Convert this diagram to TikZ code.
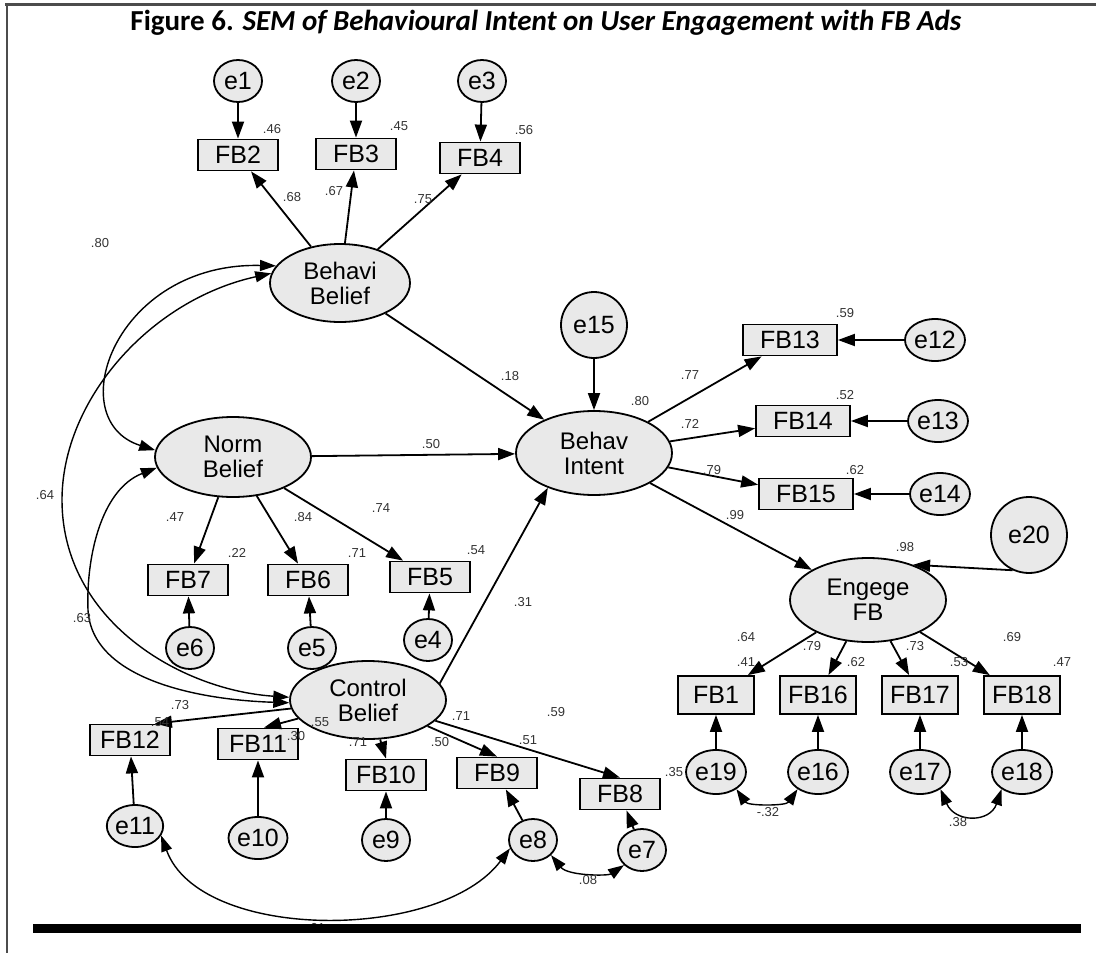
\documentclass[tikz,border=0pt]{standalone}
\usepackage{fontspec}
\setmainfont{Liberation Sans}
\newfontfamily\titlefont{Carlito}
\usetikzlibrary{shapes.geometric, arrows.meta, positioning}

\begin{document}
\begin{tikzpicture}[
    x=1pt, y=-1pt,
    obs/.style={rectangle, draw, line width=1.8pt, fill=gray!17,
                minimum width=80pt, minimum height=31pt, inner sep=0pt,
                font=\fontsize{25}{25}\selectfont},
    wide/.style={obs, minimum width=94pt},
    tall/.style={obs, minimum width=76pt, minimum height=38pt},
    lat/.style={ellipse, draw, line width=1.8pt, fill=gray!17,
                minimum width=156pt, minimum height=80pt, inner sep=0pt,
                align=center, font=\fontsize{24}{25}\selectfont},
    err/.style={ellipse, draw, line width=1.8pt, fill=gray!17,
                minimum width=48pt, minimum height=42pt, inner sep=0pt,
                font=\fontsize{25}{25}\selectfont},
    coef/.style={inner sep=0pt, text=black!80, font=\fontsize{13}{13}\selectfont},
    arr/.style={-{Triangle[length=17pt, width=12pt]}, line width=1.8pt},
    cov/.style={{Triangle[length=16pt, width=11pt]}-{Triangle[length=16pt, width=11pt]},
                line width=1.4pt}
]
  \useasboundingbox (0,0) rectangle (1096,953);
  % frame and title
  \draw[line width=3pt, black!70] (5,4) -- (1096,4);
  \draw[line width=2pt, black!70] (7,4) -- (7,953);
  \node (title) at (546,23) {\titlefont\bfseries\fontsize{29}{29}\selectfont
        Figure 6. \textit{SEM of Behavioural Intent on User Engagement with FB Ads}};

  % latent variables
  \node[lat, minimum width=140pt, minimum height=78pt] (bb) at (340,283) {Behavi\\Belief};
  \node[lat] (nb)  at (233,457) {Norm\\Belief};
  \node[lat, minimum height=84pt] (bi)  at (594,453) {Behav\\Intent};
  \node[lat, minimum height=78pt] (cb)  at (368,700) {Control\\Belief};
  \node[lat, minimum height=84pt] (efb) at (868,600) {Engege\\FB};

  % behavioural belief block
  \node[obs] (fb2) at (238,155) {FB2};
  \node[obs] (fb3) at (356,154) {FB3};
  \node[obs] (fb4) at (480,158) {FB4};
  \node[err] (e1) at (238,81) {e1};
  \node[err] (e2) at (356,81) {e2};
  \node[err] (e3) at (482,81) {e3};

  % norm belief block
  \node[obs] (fb7) at (188,580) {FB7};
  \node[obs] (fb6) at (308,580) {FB6};
  \node[obs] (fb5) at (430,577) {FB5};
  \node[err] (e6) at (190,648) {e6};
  \node[err] (e5) at (312,648) {e5};
  \node[err] (e4) at (428,640) {e4};

  % intention block
  \node[err, minimum size=66pt] (e15) at (594,325) {e15};
  \node[wide] (fb13) at (790,340) {FB13};
  \node[wide] (fb14) at (803,421) {FB14};
  \node[wide] (fb15) at (806,494) {FB15};
  \node[err, minimum width=60pt] (e12) at (935,340) {e12};
  \node[err, minimum width=60pt] (e13) at (938,421) {e13};
  \node[err, minimum width=60pt] (e14) at (940,494) {e14};

  % engagement block
  \node[err, minimum size=76pt] (e20) at (1029,535) {e20};
  \node[tall] (fb1)  at (716,695) {FB1};
  \node[tall] (fb16) at (818,695) {FB16};
  \node[tall] (fb17) at (920,695) {FB17};
  \node[tall] (fb18) at (1022,695) {FB18};
  \node[err, minimum width=60pt, minimum height=44pt] (e19) at (716,772) {e19};
  \node[err, minimum width=60pt, minimum height=44pt] (e16) at (818,772) {e16};
  \node[err, minimum width=60pt, minimum height=44pt] (e17) at (920,772) {e17};
  \node[err, minimum width=60pt, minimum height=44pt] (e18) at (1022,772) {e18};

  % control belief block
  \node[obs] (fb12) at (130,740) {FB12};
  \node[obs] (fb11) at (258,744) {FB11};
  \node[obs] (fb10) at (386,775) {FB10};
  \node[obs] (fb9)  at (497,773) {FB9};
  \node[obs] (fb8)  at (620,794) {FB8};
  \node[err, minimum width=56pt] (e11) at (135,826) {e11};
  \node[err, minimum width=56pt] (e10) at (258,838) {e10};
  \node[err] (e9) at (386,840) {e9};
  \node[err] (e8) at (533,840) {e8};
  \node[err] (e7) at (642,850) {e7};

  % regression paths
  \draw[arr] (bb) -- (fb2);  \draw[arr] (bb) -- (fb3);  \draw[arr] (bb) -- (fb4);
  \draw[arr] (e1) -- (fb2);  \draw[arr] (e2) -- (fb3);  \draw[arr] (e3) -- (fb4);
  \draw[arr] (nb) -- (fb7);  \draw[arr] (nb) -- (fb6);  \draw[arr] (nb) -- (fb5);
  \draw[arr] (e6) -- (fb7);  \draw[arr] (e5) -- (fb6);  \draw[arr] (e4) -- (fb5);
  \draw[arr] (bb) -- (bi);   \draw[arr] (nb) -- (bi);   \draw[arr] (cb.13) -- (bi.217);
  \draw[arr] (e15) -- (bi);
  \draw[arr] (bi) -- (fb13); \draw[arr] (bi) -- (fb14); \draw[arr] (bi) -- (fb15);
  \draw[arr] (e12) -- (fb13); \draw[arr] (e13) -- (fb14); \draw[arr] (e14) -- (fb15);
  \draw[arr] (bi) -- (efb);  \draw[arr] (e20.245) -- (efb.38);
  \draw[arr] (efb) -- (fb1); \draw[arr] (efb) -- (fb16);
  \draw[arr] (efb) -- (fb17); \draw[arr] (efb) -- (fb18);
  \draw[arr] (e19) -- (fb1); \draw[arr] (e16) -- (fb16);
  \draw[arr] (e17) -- (fb17); \draw[arr] (e18) -- (fb18);
  \draw[arr] (cb) -- ([xshift=-16pt]fb12.north east);
  \draw[arr] (cb) -- ([xshift=6pt]fb11.north);
  \draw[arr] (cb) -- (fb10.north);
  \draw[arr] (cb) -- (fb9.north);
  \draw[arr] (cb) -- (fb8.north);
  \draw[arr] (e11) -- (fb12); \draw[arr] (e10) -- (fb11); \draw[arr] (e9) -- (fb10);
  \draw[arr] (e8) -- (fb9);  \draw[arr] (e7) -- (fb8);

  % covariances
  \draw[cov] (bb.165) .. controls (115,262) and (60,420) .. (nb.175);
  \draw[cov] (bb.172) .. controls (150,300) and (62,400) .. (62,500)
             .. controls (62,620) and (180,690) .. (cb.178);
  \draw[cov] (nb.188) .. controls (100,490) and (86,560) .. (88,610)
             .. controls (92,680) and (200,700) .. (cb.182);
  \draw[cov] (e11.-20) .. controls (200,942) and (440,942) .. (e8.200);
  \draw[cov] (e8.-40) .. controls (568,876) and (608,876) .. (e7.220);
  \draw[cov] (e19.-40) .. controls (748,806) and (786,806) .. (e16.220);
  \draw[cov] (e17.-40) .. controls (955,823) and (990,823) .. (e18.220);

  % estimates
  \node[coef] (r2)  at (272,129) {.46};
  \node[coef] (r3)  at (399,126) {.45};
  \node[coef] (r4)  at (524,130) {.56};
  \node[coef] (p2)  at (292,197) {.68};
  \node[coef] (p3)  at (334,191) {.67};
  \node[coef] (p4)  at (423,199) {.75};
  \node[coef] (pbn) at (100,243) {.80};
  \node[coef] (pbc) at (45,495) {.64};
  \node[coef] (pnc) at (82,618) {.63};
  \node[coef] (pbi) at (510,376) {.18};
  \node[coef] (pni) at (431,444) {.50};
  \node[coef] (pci) at (523,602) {.31};
  \node[coef] (rbi) at (640,401) {.80};
  \node[coef] (p7)  at (175,517) {.47};
  \node[coef] (p6)  at (303,517) {.84};
  \node[coef] (p5)  at (381,508) {.74};
  \node[coef] (r7)  at (237,553) {.22};
  \node[coef] (r6)  at (357,553) {.71};
  \node[coef] (r5)  at (476,550) {.54};
  \node[coef] (r13) at (845,313) {.59};
  \node[coef] (r14) at (845,395) {.52};
  \node[coef] (r15) at (855,470) {.62};
  \node[coef] (p13) at (690,375) {.77};
  \node[coef] (p14) at (690,424) {.72};
  \node[coef] (p15) at (712,470) {.79};
  \node[coef] (pie) at (735,515) {.99};
  \node[coef] (ref) at (905,547) {.98};
  \node[coef] (p1)  at (746,637) {.64};
  \node[coef] (p16) at (812,646) {.79};
  \node[coef] (p17) at (915,646) {.73};
  \node[coef] (p18) at (1012,637) {.69};
  \node[coef] (r1)  at (746,662) {.41};
  \node[coef] (r16) at (856,662) {.62};
  \node[coef] (r17) at (959,662) {.53};
  \node[coef] (r18) at (1062,662) {.47};
  \node[coef] (c1916) at (768,812) {-.32};
  \node[coef] (c1718) at (958,822) {.38};
  \node[coef] (p12) at (180,705) {.73};
  \node[coef] (r12) at (160,722) {.54};
  \node[coef] (p11) at (320,722) {.55};
  \node[coef] (r11) at (296,736) {.30};
  \node[coef] (p10) at (358,742) {.71};
  \node[coef] (r10) at (440,742) {.50};
  \node[coef] (p9)  at (461,716) {.71};
  \node[coef] (r9)  at (528,740) {.51};
  \node[coef] (p8)  at (556,712) {.59};
  \node[coef] (r8)  at (674,772) {.35};
  \node[coef] (c87) at (588,880) {.08};
  \node[coef] (c118) at (316,928) {.01};

  % rule under the figure
  \fill (33,924) rectangle (1081,933);
\end{tikzpicture}
\end{document}
